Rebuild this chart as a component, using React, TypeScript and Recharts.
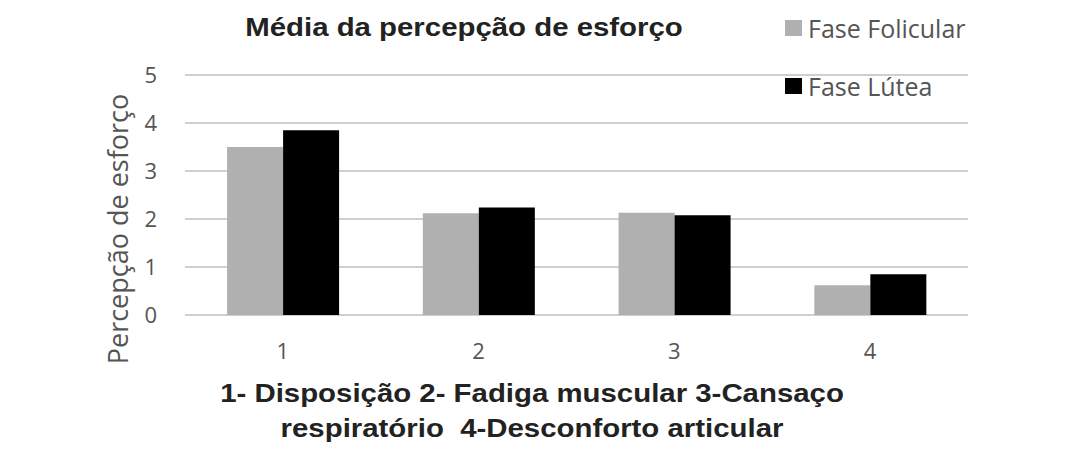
import React from 'react';
import { BarChart, Bar, XAxis, YAxis, CartesianGrid, Legend } from 'recharts';

const categories = ['1', '2', '3', '4'];
const folicular = [3.5, 2.12, 2.13, 0.62];
const lutea = [3.85, 2.24, 2.08, 0.85];
const yTicks = [0, 1, 2, 3, 4, 5];

const data = categories.map((c, i) => ({ name: c, folicular: folicular[i], lutea: lutea[i] }));

const tickFont = '"Open Sans", Lato, sans-serif';
const boldFont = '"Liberation Sans", Arial, sans-serif';

// legend drawn at the top right, the second item sits on the top gridline like the original
const LegendBox = ({ payload }: any) => (
  <div style={{ fontFamily: tickFont, fontSize: 25, color: '#555', textAlign: 'left' }}>
    {(payload || []).map((p: any, i: number) => (
      <div key={p.value} style={{ display: 'flex', alignItems: 'center', height: 30, marginBottom: i === 0 ? 28 : 0 }}>
        <span style={{ display: 'inline-block', width: 17, height: 16, background: p.color, marginRight: 6 }} />
        <span>{p.value}</span>
      </div>
    ))}
  </div>
);

export default function App() {
  return (
    <div style={{ position: 'absolute', left: 0, top: 0, width: 1068, height: 453, background: '#fff' }}>
      <div style={{ position: 'absolute', left: 0, width: 928, top: 12, textAlign: 'center', fontFamily: boldFont, fontWeight: 'bold', fontSize: 26, color: '#222', transform: 'scaleX(1.13)', transformOrigin: '464px 0' }}>
        Média da percepção de esforço
      </div>
      <BarChart
        width={1068}
        height={453}
        data={data}
        margin={{ top: 75, right: 100, left: 51, bottom: 98 }}
        barCategoryGap="21.5%"
        barGap={0}
      >
        <CartesianGrid vertical={false} stroke="#cfcfcf" strokeWidth={2} />
        <XAxis
          dataKey="name"
          axisLine={false}
          tickLine={false}
          tickMargin={22}
          height={40}
          tick={{ fontFamily: tickFont, fontSize: 22, fill: '#555' }}
        />
        <YAxis
          width={134}
          domain={[0, 5]}
          ticks={yTicks}
          axisLine={false}
          tickLine={false}
          tickMargin={22}
          tick={{ fontFamily: tickFont, fontSize: 22, fill: '#555' }}
          label={{ value: 'Percepção de esforço', angle: -90, position: 'center', dy: 34, style: { fontFamily: tickFont, fontSize: 27, fill: '#555' } }}
        />
        <Legend
          layout="vertical"
          verticalAlign="middle"
          align="center"
          content={<LegendBox />}
          wrapperStyle={{ position: 'absolute', left: 785, top: 13, width: 240 }}
        />
        <Bar dataKey="folicular" name="Fase Folicular" fill="#b0b0b0" isAnimationActive={false} />
        <Bar dataKey="lutea" name="Fase Lútea" fill="#000000" isAnimationActive={false} />
      </BarChart>
      <div style={{ position: 'absolute', left: 0, width: 1064, top: 376, textAlign: 'center', fontFamily: boldFont, fontWeight: 'bold', fontSize: 26, lineHeight: '35px', color: '#222', transform: 'scaleX(1.13)', transformOrigin: '532px 0' }}>
        1- Disposição 2- Fadiga muscular 3-Cansaço
        <br />
        respiratório&nbsp;&nbsp;4-Desconforto articular
      </div>
    </div>
  );
}
